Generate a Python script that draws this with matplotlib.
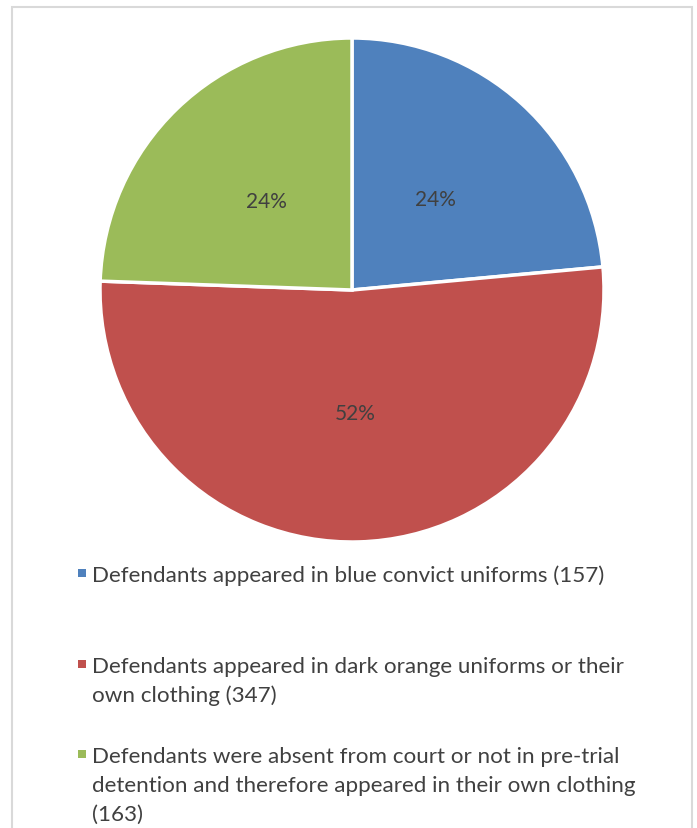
import matplotlib.pyplot as plt
from matplotlib.patches import Rectangle

# Data
labels = [
    'Defendants appeared in blue convict uniforms (157)',
    'Defendants appeared in dark orange uniforms or their\nown clothing (347)',
    'Defendants were absent from court or not in pre-trial\ndetention and therefore appeared in their own clothing\n(163)',
]
counts = [157, 347, 163]
colors = ['#4f81bd', '#c0504d', '#9bbb59']

W, H = 697, 829
text_color = '#404040'
plt.rcParams['font.family'] = ['Lato', 'DejaVu Sans']

fig = plt.figure(figsize=(W / 100, H / 100), dpi=100)
fig.patch.set_facecolor('white')

# light grey chart frame
fig.add_artist(Rectangle((12 / W, -0.01), 680 / W, (H - 8) / H + 0.01,
                         transform=fig.transFigure, fill=False,
                         edgecolor='#d9d9d9', linewidth=1.5))

# Pie
ax = fig.add_axes([100 / W, (H - 543) / H, 504 / W, 504 / H])
wedges, texts, autotexts = ax.pie(
    counts, colors=colors, startangle=90, counterclock=False,
    autopct='%1.0f%%', pctdistance=0.49, radius=1,
    wedgeprops=dict(edgecolor='white', linewidth=2.5),
    textprops=dict(color=text_color, fontsize=15))
ax.set_xlim(-1, 1)
ax.set_ylim(-1, 1)
ax.set_aspect('equal')
ax.axis('off')

# Legend, drawn item by item
first_baselines = [582, 673, 763]
line_step = 29
for lab, col, yb in zip(labels, colors, first_baselines):
    fig.add_artist(Rectangle((78 / W, 1 - (yb - 4) / H), 8 / W, 8 / H,
                             transform=fig.transFigure, facecolor=col,
                             edgecolor='none'))
    for i, line in enumerate(lab.split('\n')):
        fig.text(92 / W, 1 - (yb + i * line_step) / H, line,
                 ha='left', va='baseline', fontsize=16.1, color=text_color)

fig.savefig('out.png', dpi=100)
